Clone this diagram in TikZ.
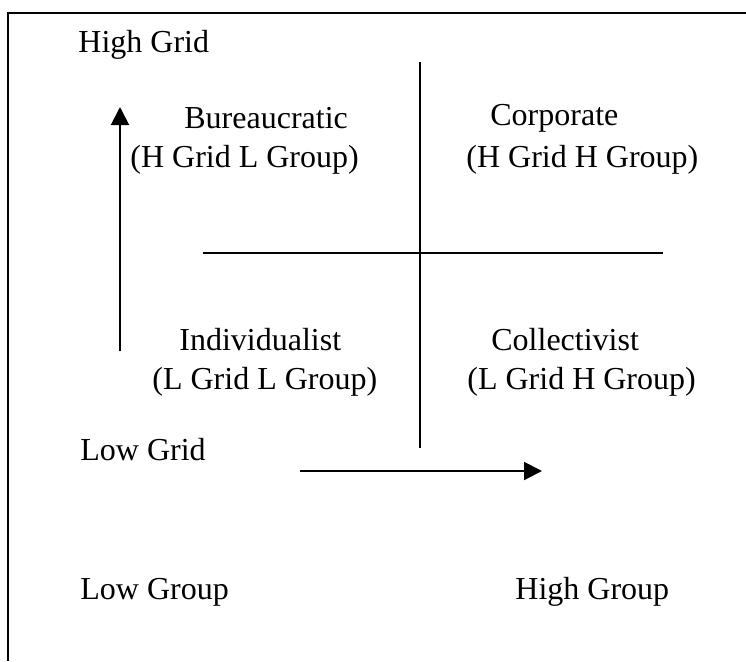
\documentclass[tikz,border=0pt]{standalone}
\usepackage{fontspec}
\setmainfont{Liberation Serif}
\usetikzlibrary{arrows.meta,positioning}

\begin{document}
\begin{tikzpicture}[
    x=0.5pt, y=-0.5pt,
    label/.style={anchor=west, inner sep=0pt, font=\fontsize{16}{19}\selectfont},
    rule/.style={line width=1pt},
    arrow/.style={-{Triangle[length=9pt,width=9pt]}, line width=1pt}
]
    \useasboundingbox (0,0) rectangle (746,661);

    % Frame (top and left only)
    \draw[rule] (746,13) -- (8,13) -- (8,661);

    % Axis labels
    \node[label] (highgrid) at (78,45) {High Grid};
    \node[label] (lowgrid) at (80,450) {Low Grid};
    \node[label] (lowgroup) at (80,592) {Low Group};
    \node[label] (highgroup) at (515,592) {High Group};

    % Quadrants
    \node[label] (bureau) at (184,118) {Bureaucratic};
    \node[label] (bureausub) at (130,160) {(H Grid L Group)};
    \node[label] (corp) at (490,118) {Corporate};
    \node[label] (corpsub) at (466,160) {(H Grid H Group)};
    \node[label] (indiv) at (179,340) {Individualist};
    \node[label] (indivsub) at (152,382) {(L Grid L Group)};
    \node[label] (coll) at (491,340) {Collectivist};
    \node[label] (collsub) at (467,382) {(L Grid H Group)};

    % Dividing lines
    \coordinate (vtop) at (420,62);
    \coordinate (vbot) at (420,448);
    \coordinate (hleft) at (203,253);
    \coordinate (hright) at (663,253);
    \draw[rule] (vtop) -- (vbot);
    \draw[rule] (hleft) -- (hright);

    % Axis arrows
    \coordinate (gridfrom) at (120,351);
    \coordinate (gridto) at (120,107);
    \coordinate (groupfrom) at (300,471);
    \coordinate (groupto) at (542,471);
    \draw[arrow] (gridfrom) -- (gridto);
    \draw[arrow] (groupfrom) -- (groupto);
\end{tikzpicture}
\end{document}
